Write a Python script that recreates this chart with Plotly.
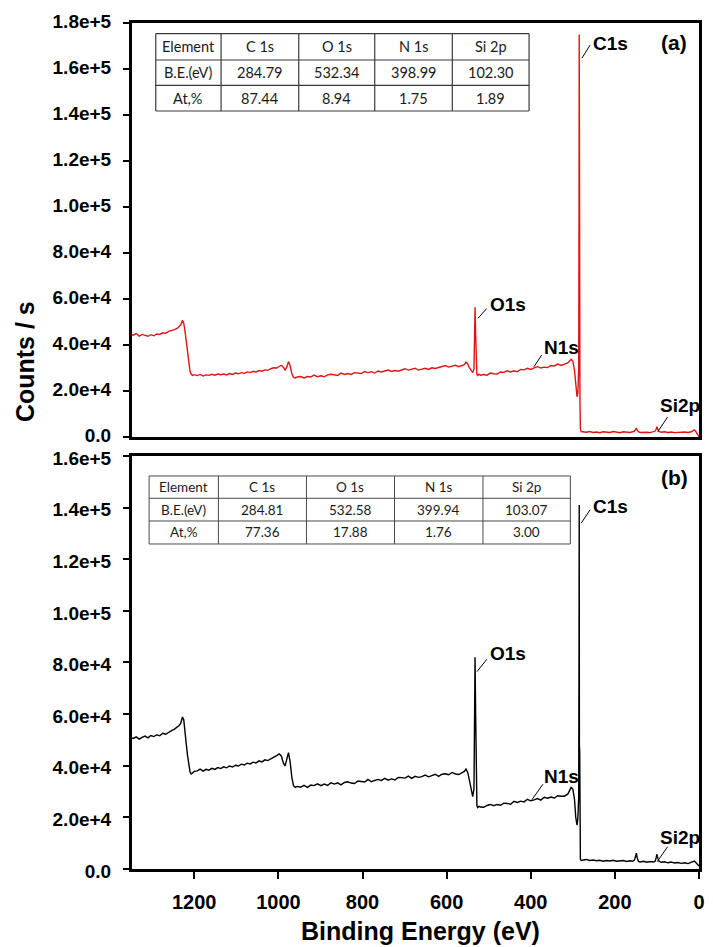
import plotly.graph_objects as go

# ---------------------------------------------------------------- data
# Binding energy grid (eV), shared by both survey spectra
energy_ev = [
    1350, 1345, 1338, 1331, 1324, 1317, 1310, 1303, 1296, 1289, 1282, 1275, 1268, 1261, 1254, 1247, 1240,
    1236, 1232, 1228, 1225, 1222, 1219, 1216, 1213, 1210, 1207, 1204, 1200,
    1193, 1186, 1179, 1172, 1165, 1158, 1151, 1144, 1137, 1130, 1123, 1116, 1109, 1102, 1095, 1088,
    1081, 1074, 1067, 1060, 1053, 1046, 1039, 1032, 1025, 1018, 1011, 1004,
    998, 993, 988, 984, 980, 976, 972, 968, 964, 960, 955,
    947, 939, 931, 923, 915, 907, 899, 891, 883, 875, 867, 859, 851, 843, 835, 827, 819, 811, 803, 795,
    787, 779, 771, 763, 755, 747, 739, 731, 723, 715, 707, 699, 691, 683, 675, 667, 659, 651, 643, 635,
    627, 619, 611, 603, 595, 587, 579, 571, 563,
    558, 554, 550, 546, 542, 538, 535, 533.5, 532.4, 531, 529.5, 528, 526, 523, 520,
    512, 504, 496, 488, 480, 472, 464, 456, 448, 440, 432, 424, 416, 408, 400, 392, 384, 376, 368, 360,
    352, 344, 336, 328, 320, 312, 304,
    300, 296, 293, 290, 288, 286, 285.2, 284.8, 284.3, 283.6, 283, 282, 280,
    276, 268, 260, 252, 244, 236, 228, 220, 212, 204, 196, 188, 180, 172, 164,
    158, 154, 151, 149, 147, 144, 140, 132, 124, 116, 108,
    104, 102, 100, 98, 95, 90, 82, 74, 66, 58, 50, 42, 34, 26, 18, 14, 11, 8, 5, 2, 0,
]

# (a) survey spectrum, counts / s
counts_a = [
    44600, 44300, 45000, 43900, 44600, 44100, 43800, 44500, 44000, 44800, 44600, 45300, 45100, 45900, 46200, 46700, 47300,
    47900, 48800, 50800, 49500, 46000, 41000, 36000, 31500, 28500, 27300, 26800, 27100,
    26700, 27200, 26500, 27000, 26800, 27300, 26900, 27400, 27100, 27400, 27000, 27600, 27200, 27800, 27500, 28000,
    27700, 28300, 28000, 28600, 28300, 28900, 28600, 29200, 29000, 29700, 30100, 30000,
    30500, 31200, 30400, 29100, 30500, 32800, 31000, 27500, 26000, 25700, 26100,
    26300, 25700, 26300, 26100, 26900, 26200, 26600, 26200, 27000, 27300, 26900, 26800, 27800, 27200, 27600, 27200, 28000, 27800, 27600, 28500,
    28000, 28400, 27800, 28700, 28300, 28700, 29100, 28500, 28900, 28600, 29300, 29700, 29100, 29400, 29900, 29100, 29500, 29900, 29400, 30100,
    29800, 30300, 30700, 31100, 30400, 30700, 31200, 30600, 31300,
    31500, 32600, 31800, 30200, 28800, 28000, 29500, 45000, 56400, 45000, 30000, 27200, 26800, 27300, 26900,
    27200, 26900, 27800, 27500, 27400, 28300, 28100, 28800, 28300, 28800, 28400, 29400, 29200, 29900, 29400, 30100, 30600, 30000, 30400, 30200,
    31100, 30900, 31700, 31100, 31800, 32200, 33800,
    33000, 29000, 21000, 17500, 19000, 30000, 100000, 175000, 72000, 70000, 15000, 3500, 2400,
    2300, 2100, 2400, 2000, 2200, 1900, 2300, 2100, 2000, 2400, 2100, 1900, 2300, 2200, 2000,
    2300, 2500, 3200, 3900, 3000, 2300, 2000, 2200, 2100, 1900, 2200,
    2600, 3400, 4500, 3300, 2400, 2100, 2300, 2000, 2200, 1900, 2100, 2000, 2200, 2000, 2300, 2800, 3100, 2500, 1800, 700, 200,
]

# (b) survey spectrum, counts / s
counts_b = [
    50900, 50600, 51200, 50300, 51000, 51500, 50800, 51700, 51300, 52000, 51600, 52600, 52200, 53000, 53600, 54200, 55000,
    55600, 56500, 58900, 57800, 54000, 48500, 44000, 40000, 37600, 36800, 37300, 37800,
    38000, 38700, 37900, 38600, 38300, 39000, 38600, 39300, 38900, 39600, 39200, 39900, 39500, 40200, 39900, 40600,
    40300, 41000, 40700, 41400, 41100, 41900, 41500, 42300, 42000, 42800, 43300, 43900,
    44600, 43800, 41000, 40000, 42500, 45100, 41500, 35500, 32300, 31600, 32000,
    31700, 32400, 31600, 32500, 32300, 33000, 32300, 32900, 32400, 33400, 32900, 33400, 32600, 33500, 33800, 33300, 33100, 34100, 34000, 33700,
    34700, 33800, 34300, 34700, 34300, 35100, 34400, 34900, 34500, 35500, 35400, 35200, 36000, 35100, 35900, 35500, 35800, 36400, 35700, 36100,
    36700, 35900, 36700, 36900, 36500, 37400, 36800, 36600, 37400,
    37800, 38700, 37500, 34500, 30500, 28000, 31000, 60000, 82000, 60000, 30000, 24500, 23800, 24300, 24000,
    23900, 24600, 25000, 24500, 25000, 24700, 25500, 25400, 25100, 26200, 25800, 26300, 26000, 27000, 26400, 26800, 27300, 26700, 27800, 27400,
    27900, 27500, 28400, 28200, 28200, 29000, 31600,
    31000, 27000, 20000, 17000, 19500, 28000, 90000, 141000, 47500, 46000, 10000, 3800, 3300,
    3400, 3700, 3300, 3500, 3200, 3400, 3000, 3300, 3100, 3400, 3000, 3200, 3300, 2900, 3200,
    3000, 3400, 4600, 6100, 4400, 2900, 2700, 3000, 2600, 2900, 2700,
    3100, 4300, 5700, 4200, 3000, 2600, 2800, 2400, 2700, 2300, 2500, 2200, 2400, 2100, 2500, 2900, 3100, 2600, 2000, 1400, 1100,
]

assert len(energy_ev) == len(counts_a) == len(counts_b)

x_tickvals = [0, 200, 400, 600, 800, 1000, 1200]
y_tickvals_a = [0, 20000, 40000, 60000, 80000, 100000, 120000, 140000, 160000, 180000]
y_ticktext_a = ["0.0", "2.0e+4", "4.0e+4", "6.0e+4", "8.0e+4", "1.0e+5", "1.2e+5", "1.4e+5", "1.6e+5", "1.8e+5"]
y_tickvals_b = [0, 20000, 40000, 60000, 80000, 100000, 120000, 140000, 160000]
y_ticktext_b = ["0.0", "2.0e+4", "4.0e+4", "6.0e+4", "8.0e+4", "1.0e+5", "1.2e+5", "1.4e+5", "1.6e+5"]

# quantification tables
table_header = ["Element", "C 1s", "O 1s", "N 1s", "Si 2p"]
table_a_be = ["B.E.(eV)", "284.79", "532.34", "398.99", "102.30"]
table_a_at = ["At,%", "87.44", "8.94", "1.75", "1.89"]
table_b_be = ["B.E.(eV)", "284.81", "532.58", "399.94", "103.07"]
table_b_at = ["At,%", "77.36", "17.88", "1.76", "3.00"]

peak_names = ["C1s", "O1s", "N1s", "Si2p"]

# ---------------------------------------------------------------- layout helpers
BOLD = "Liberation Sans, Arial, sans-serif"
TABLE_FONT = "Lato, Calibri, sans-serif"

# label placement: (text x, text y, leader start x, leader start y, leader end x, leader end y)
label_pos_a = [
    (256.5, 171300, 278.4, 164700, 258.8, 170400),
    (501.2, 57830, 525.4, 51600, 504.7, 55870),
    (374.1, 39130, 392.2, 30570, 374.1, 35650),
    (96.5, 13910, 98.1, 2300, 74.6, 8700),
]
label_pos_b = [
    (256.5, 140300, 280.0, 134000, 258.8, 139150),
    (501.2, 83450, 527.8, 76470, 504.2, 81280),
    (374.1, 35930, 397.6, 26740, 371.1, 32830),
    (96.5, 12020, 99.5, 2830, 74.6, 8640),
]

# table grids in axis-domain fractions
grid_a = dict(xs=[0.0419, 0.1571, 0.2941, 0.4281, 0.5649, 0.7003],
              ys=[0.9742, 0.9106, 0.8495, 0.7874], size=14.5, lw=1.2, color="#3a3a3a")
grid_b = dict(xs=[0.0302, 0.1524, 0.3077, 0.4630, 0.6190, 0.7731],
              ys=[0.9516, 0.8976, 0.8426, 0.7869], size=13.5, lw=1.0, color="#4a4a4a")

fig = go.Figure()
fig.add_trace(go.Scatter(x=energy_ev, y=counts_a, mode="lines", xaxis="x", yaxis="y",
                         line=dict(color="#e01414", width=1.4), showlegend=False))
fig.add_trace(go.Scatter(x=energy_ev, y=counts_b, mode="lines", xaxis="x2", yaxis="y2",
                         line=dict(color="#000000", width=1.4), showlegend=False))

axis_common = dict(showline=True, linecolor="black", linewidth=3, mirror=True,
                   showgrid=False, zeroline=False)
tickfont = dict(family=BOLD, size=19, color="black", weight="bold")

fig.update_layout(
    width=713, height=947,
    margin=dict(l=132, r=8, t=23, b=78),
    paper_bgcolor="white", plot_bgcolor="white",
    xaxis=dict(domain=[0, 1], anchor="y", range=[1348, 0], showticklabels=False, ticks="",
               **axis_common),
    yaxis=dict(domain=[0.5106, 1], anchor="x", range=[0, 180000], tickvals=y_tickvals_a,
               ticktext=y_ticktext_a, ticks="outside", ticklen=6, tickwidth=2, tickcolor="black",
               tickfont=tickfont, ticklabelstandoff=8, ticklabelshift=-2, **axis_common),
    xaxis2=dict(domain=[0, 1], anchor="y2", range=[1348, 0], tickvals=x_tickvals,
                ticks="outside", ticklen=7, tickwidth=2, tickcolor="black",
                tickfont=dict(family=BOLD, size=20, color="black", weight="bold"),
                ticklabelstandoff=6, **axis_common),
    yaxis2=dict(domain=[0, 0.4882], anchor="x2", range=[0, 160000], tickvals=y_tickvals_b,
                ticktext=y_ticktext_b, ticks="outside", ticklen=6, tickwidth=2, tickcolor="black",
                tickfont=tickfont, ticklabelstandoff=8, ticklabelshift=2, **axis_common),
)

annotations = []
shapes = []

# axis titles
annotations.append(dict(text="Counts / s", xref="paper", yref="paper", x=-0.1885, y=0.5993,
                        textangle=-90, showarrow=False, xanchor="center", yanchor="middle",
                        font=dict(family=BOLD, size=25, color="black", weight="bold")))
annotations.append(dict(text="Binding Energy (eV)", xref="paper", yref="paper", x=0.5087, y=-0.0733,
                        showarrow=False, xanchor="center", yanchor="middle",
                        font=dict(family=BOLD, size=25, color="black", weight="bold")))

# panel tags
for tag, xr, yr, yy in [("(a)", "x domain", "y domain", 0.952), ("(b)", "x2 domain", "y2 domain", 0.947)]:
    annotations.append(dict(text=tag, xref=xr, yref=yr, x=0.956, y=yy, showarrow=False,
                            xanchor="center", yanchor="middle",
                            font=dict(family=BOLD, size=21, color="black", weight="bold")))

# peak labels with leader lines
for xr, yr, positions in [("x", "y", label_pos_a), ("x2", "y2", label_pos_b)]:
    for name, (tx, ty, hx, hy, ex, ey) in zip(peak_names, positions):
        annotations.append(dict(text=name, xref=xr, yref=yr, x=tx, y=ty, showarrow=False,
                                xanchor="left", yanchor="middle",
                                font=dict(family=BOLD, size=19, color="black", weight="bold")))
        shapes.append(dict(type="line", xref=xr, yref=yr, x0=hx, y0=hy, x1=ex, y1=ey,
                           line=dict(color="black", width=1)))

# tables
for xr, yr, grid, rows in [("x domain", "y domain", grid_a, [table_header, table_a_be, table_a_at]),
                           ("x2 domain", "y2 domain", grid_b, [table_header, table_b_be, table_b_at])]:
    xs, ys = grid["xs"], grid["ys"]
    ln = dict(color=grid["color"], width=grid["lw"])
    for xv in xs:
        shapes.append(dict(type="line", xref=xr, yref=yr, x0=xv, x1=xv, y0=ys[0], y1=ys[-1], line=ln))
    for yv in ys:
        shapes.append(dict(type="line", xref=xr, yref=yr, x0=xs[0], x1=xs[-1], y0=yv, y1=yv, line=ln))
    for r, row in enumerate(rows):
        yc = (ys[r] + ys[r + 1]) / 2
        for c, cell in enumerate(row):
            xc = (xs[c] + xs[c + 1]) / 2
            annotations.append(dict(text=cell, xref=xr, yref=yr, x=xc, y=yc, showarrow=False,
                                    xanchor="center", yanchor="middle",
                                    font=dict(family=TABLE_FONT, size=grid["size"], color="#1a1a1a")))

fig.update_layout(annotations=annotations, shapes=shapes)

fig.write_html("out.html")
